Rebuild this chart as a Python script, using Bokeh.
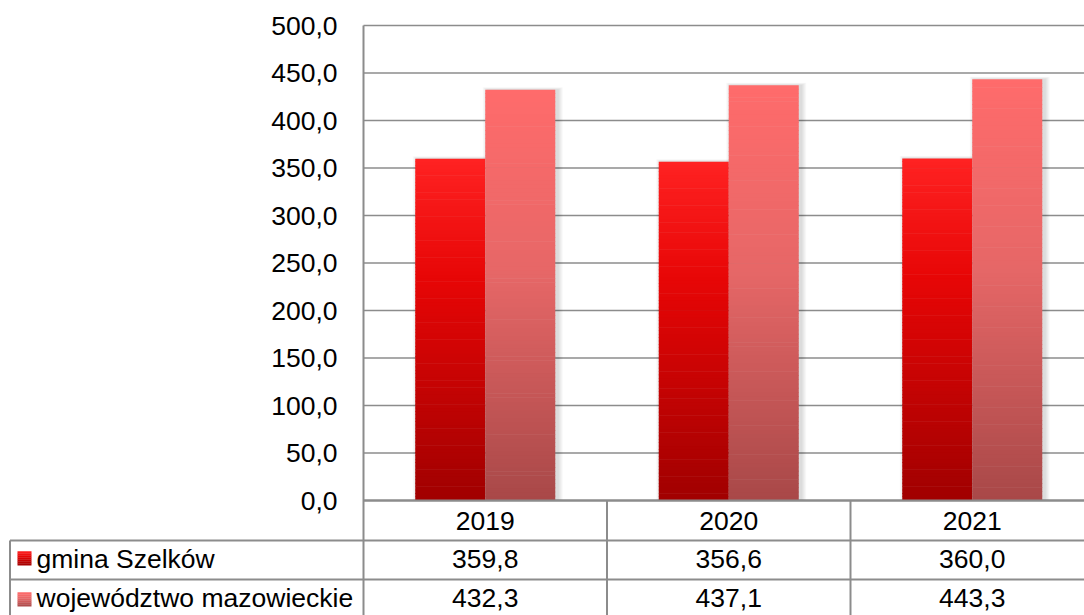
import numpy as np
from bokeh.plotting import figure
from bokeh.models import Range1d, FixedTicker, LinearAxis, ColumnDataSource
from bokeh.core.properties import value
from bokeh.embed import file_html
from bokeh.resources import INLINE

# ---------------- data ----------------
years = ["2019", "2020", "2021"]
gmina = [359.8, 356.6, 360.0]
mazowieckie = [432.3, 437.1, 443.3]
series_names = ["gmina Szelków", "województwo mazowieckie"]
y_ticks = [0, 50, 100, 150, 200, 250, 300, 350, 400, 450, 500]

# ---------------- layout constants ----------------
FONT = "Liberation Sans"
FS = "26.5px"
GRID = "#8c8c8c"
W, H = 1084, 615
PLOT_L = 363          # pixel x of the plot's left border
PLOT_T = 25           # pixel y of value 500
CAT_PX = 243.5        # pixel width of one category
PXU = 0.95            # pixels per value unit
BAR_PX = 70

def X(px):  # canvas pixel -> category coordinate
    return -0.5 + (px - PLOT_L) / CAT_PX

def Y(py):  # canvas pixel -> value coordinate
    return 500 - (py - PLOT_T) / PXU

red_stops = [(0.0, (255, 34, 34)), (0.35, (231, 6, 6)), (1.0, (160, 0, 0))]
pink_stops = [(0.0, (255, 107, 107)), (0.45, (230, 103, 103)), (1.0, (168, 72, 72))]

def grad(stops, f):
    for (f0, c0), (f1, c1) in zip(stops[:-1], stops[1:]):
        if f <= f1:
            t = (f - f0) / (f1 - f0) if f1 > f0 else 0
            c = [round(a + (b - a) * t) for a, b in zip(c0, c1)]
            return "#%02x%02x%02x" % tuple(c)
    return "#%02x%02x%02x" % stops[-1][1]

x0, x1 = X(0), X(W)
y0, y1 = Y(H), Y(0)

p = figure(width=W, height=H,
           x_range=Range1d(x0, x1), y_range=Range1d(y0, y1),
           output_backend="svg", toolbar_location=None,
           x_axis_location=None, y_axis_location=None,
           min_border=0, min_border_left=0, min_border_right=0,
           min_border_top=0, min_border_bottom=0)
p.outline_line_color = None
p.background_fill_color = "white"
p.border_fill_color = "white"
p.xgrid.visible = False
p.ygrid.visible = False

# value axis drawn at the plot's left border
ax = LinearAxis(fixed_location=-0.5, bounds=(y0, 500),
                ticker=FixedTicker(ticks=y_ticks))
ax.major_label_overrides = {t: f"{t:.1f}".replace(".", ",") for t in y_ticks}
ax.major_label_text_font = FONT
ax.major_label_text_font_size = FS
ax.major_label_text_color = "black"
ax.major_label_standoff = 20
ax.major_tick_line_color = None
ax.minor_tick_line_color = None
ax.axis_line_color = GRID
ax.axis_line_width = 2
p.add_layout(ax, "left")

# horizontal gridlines
p.segment(x0=[-0.5] * len(y_ticks), y0=y_ticks, x1=[x1] * len(y_ticks), y1=y_ticks,
          line_color=GRID, line_width=[2 if t == 0 else 1.4 for t in y_ticks])

bw = BAR_PX / CAT_PX
off = bw / 2
xs = np.arange(len(years))

# soft shadows (mostly to the right)
for k in range(1, 6):
    for series, sign in ((gmina, -1), (mazowieckie, 1)):
        p.vbar(x=xs + sign * off + 2.5 / CAT_PX, width=bw + 2 * k / CAT_PX,
               bottom=0, top=np.array(series) + 0.5 * k / PXU,
               fill_color="black", fill_alpha=0.028, line_color=None)

# gradient bars
N = 100
for series, sign, stops in ((gmina, -1, red_stops), (mazowieckie, 1, pink_stops)):
    xx, bb, tt, cc = [], [], [], []
    for i, v in enumerate(series):
        edges = np.linspace(0, v, N + 1)
        for j in range(N):
            mid = (edges[j] + edges[j + 1]) / 2
            xx.append(xs[i] + sign * off)
            bb.append(edges[j])
            tt.append(min(edges[j + 1] + 0.6, v))
            cc.append(grad(stops, 1 - mid / v))
    src = ColumnDataSource(dict(x=xx, bottom=bb, top=tt, color=cc))
    p.vbar(x="x", width=bw, bottom="bottom", top="top", source=src,
           fill_color="color", line_color=None)

# baseline redrawn on top of shadows
p.segment(x0=[-0.5], y0=[0], x1=[x1], y1=[0], line_color=GRID, line_width=2)

# ---------------- data table ----------------
# header row (years)
p.text(x=xs, y=[Y(520)] * len(years), text=years,
       text_font=value(FONT), text_font_size=FS, text_color="black",
       text_align="center", text_baseline="middle")
# category dividers
vdiv = list(xs[:-1] + 0.5)
p.segment(x0=vdiv, y0=[0] * len(vdiv), x1=vdiv, y1=[y0] * len(vdiv),
          line_color=GRID, line_width=2)
# left border of row-label column
xl = X(9.5)
p.segment(x0=[xl], y0=[Y(540)], x1=[xl], y1=[y0], line_color=GRID, line_width=2)
# row separators
p.segment(x0=[xl, xl], y0=[Y(540), Y(579)], x1=[x1, x1], y1=[Y(540), Y(579)],
          line_color=GRID, line_width=2)

row_y = [Y(558.5), Y(597.5)]
sq_c = [558, 599]
for r, (series, stops) in enumerate(((gmina, red_stops), (mazowieckie, pink_stops))):
    labels = [f"{v:.1f}".replace(".", ",") for v in series]
    p.text(x=xs, y=[row_y[r]] * len(series), text=labels,
           text_font=value(FONT), text_font_size=FS, text_color="black",
           text_align="center", text_baseline="middle")
    p.text(x=[X(36)], y=[row_y[r]], text=[series_names[r]],
           text_font=value(FONT), text_font_size=FS, text_color="black",
           text_align="left", text_baseline="middle")
    # legend key square with gradient
    M = 7
    hs = 14 / M
    qb, qt, qc = [], [], []
    for j in range(M):
        top_px = sq_c[r] - 7 + j * hs
        qt.append(Y(top_px) + 0.3)
        qb.append(Y(top_px + hs))
        qc.append(grad(stops, (j + 0.5) / M))
    p.quad(left=[X(17)] * M, right=[X(31)] * M, bottom=qb, top=qt,
           fill_color=qc, line_color=None)

open("out.html", "w").write(file_html(p, INLINE))
